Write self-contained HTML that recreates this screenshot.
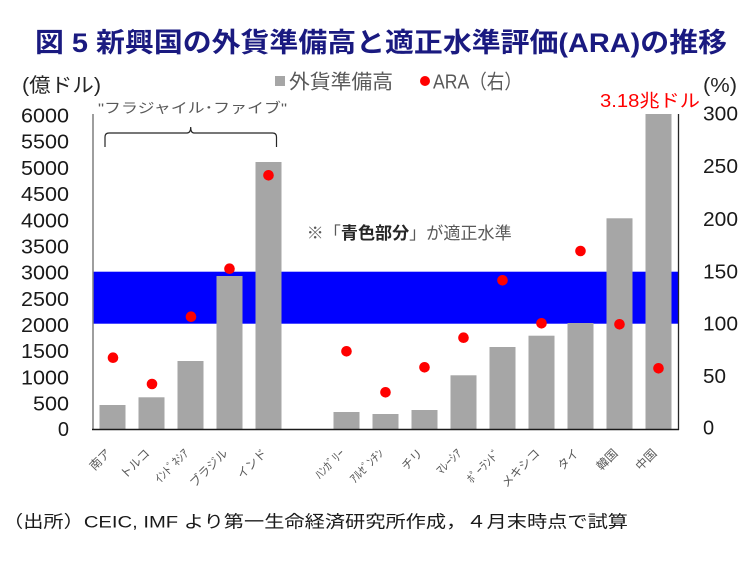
<!DOCTYPE html>
<html><head><meta charset="utf-8">
<style>
html,body{margin:0;padding:0;background:#fff;}
svg{display:block;}
text{font-family:"Liberation Sans","Noto Sans CJK JP",sans-serif;}
</style></head>
<body>
<svg width="753" height="567" viewBox="0 0 753 567" xmlns="http://www.w3.org/2000/svg">
<rect width="753" height="567" fill="#fff"/>
<!-- Title -->
<text x="35" y="52" font-size="27" font-weight="bold" fill="#1a1a80" textLength="692" lengthAdjust="spacingAndGlyphs">図 5  新興国の外貨準備高と適正水準評価(ARA)の推移</text>

<!-- axis unit labels -->
<text x="22" y="92" font-size="20" fill="#262626" textLength="79" lengthAdjust="spacingAndGlyphs">(億ドル)</text>
<text x="703" y="92" font-size="20" fill="#262626" textLength="34" lengthAdjust="spacingAndGlyphs">(%)</text>

<!-- legend -->
<rect x="275" y="76" width="10" height="10" fill="#a6a6a6"/>
<text x="289" y="88.5" font-size="20" fill="#595959" textLength="104" lengthAdjust="spacingAndGlyphs">外貨準備高</text>
<circle cx="425" cy="81" r="5" fill="#ff0000"/>
<text x="433" y="88.5" font-size="20" fill="#595959" textLength="89" lengthAdjust="spacingAndGlyphs">ARA（右）</text>

<!-- blue band -->
<rect x="93" y="271.7" width="585" height="52" fill="#0000ff"/>

<!-- bars -->
<g fill="#a6a6a6">
<rect x="99.5" y="405" width="26" height="24.5"/>
<rect x="138.5" y="397.3" width="26" height="32.2"/>
<rect x="177.5" y="361" width="26" height="68.5"/>
<rect x="216.5" y="276" width="26" height="153.5"/>
<rect x="255.5" y="162" width="26" height="267.5"/>
<rect x="333.5" y="412" width="26" height="17.5"/>
<rect x="372.5" y="414" width="26" height="15.5"/>
<rect x="411.5" y="410" width="26" height="19.5"/>
<rect x="450.5" y="375.3" width="26" height="54.2"/>
<rect x="489.5" y="347" width="26" height="82.5"/>
<rect x="528.5" y="335.7" width="26" height="93.8"/>
<rect x="567.5" y="323" width="26" height="106.5"/>
<rect x="606.5" y="218.3" width="26" height="211.2"/>
<rect x="645.5" y="114" width="26" height="315.5"/>
</g>

<!-- dots -->
<g fill="#ff0000">
<circle cx="113" cy="357.7" r="5.3"/>
<circle cx="152" cy="384" r="5.3"/>
<circle cx="191" cy="316.7" r="5.3"/>
<circle cx="229.5" cy="268.7" r="5.3"/>
<circle cx="268.5" cy="175.3" r="5.3"/>
<circle cx="346.5" cy="351.3" r="5.3"/>
<circle cx="385.5" cy="392.3" r="5.3"/>
<circle cx="424.5" cy="367.3" r="5.3"/>
<circle cx="463.5" cy="337.7" r="5.3"/>
<circle cx="502.5" cy="280.3" r="5.3"/>
<circle cx="541.5" cy="323.3" r="5.3"/>
<circle cx="580.5" cy="251" r="5.3"/>
<circle cx="619.5" cy="324.3" r="5.3"/>
<circle cx="658.5" cy="368.3" r="5.3"/>
</g>

<!-- axes -->
<line x1="93" y1="114" x2="93" y2="430" stroke="#7f7f7f" stroke-width="1.5"/>
<line x1="678.5" y1="114" x2="678.5" y2="430" stroke="#262626" stroke-width="1.3"/>
<line x1="92" y1="429.5" x2="679" y2="429.5" stroke="#1a1a1a" stroke-width="1.5"/>

<!-- left tick labels -->
<g font-size="20" fill="#1a1a1a" text-anchor="end">
<text x="69" y="122.5" textLength="48" lengthAdjust="spacingAndGlyphs">6000</text>
<text x="69" y="148.7" textLength="48" lengthAdjust="spacingAndGlyphs">5500</text>
<text x="69" y="174.9" textLength="48" lengthAdjust="spacingAndGlyphs">5000</text>
<text x="69" y="201.1" textLength="48" lengthAdjust="spacingAndGlyphs">4500</text>
<text x="69" y="227.3" textLength="48" lengthAdjust="spacingAndGlyphs">4000</text>
<text x="69" y="253.4" textLength="48" lengthAdjust="spacingAndGlyphs">3500</text>
<text x="69" y="279.6" textLength="48" lengthAdjust="spacingAndGlyphs">3000</text>
<text x="69" y="305.8" textLength="48" lengthAdjust="spacingAndGlyphs">2500</text>
<text x="69" y="332.0" textLength="48" lengthAdjust="spacingAndGlyphs">2000</text>
<text x="69" y="358.2" textLength="48" lengthAdjust="spacingAndGlyphs">1500</text>
<text x="69" y="384.3" textLength="48" lengthAdjust="spacingAndGlyphs">1000</text>
<text x="69" y="410.5" textLength="36" lengthAdjust="spacingAndGlyphs">500</text>
<text x="69" y="436.2">0</text>
</g>

<!-- right tick labels -->
<g font-size="20" fill="#1a1a1a">
<text x="703" y="120.5" textLength="35" lengthAdjust="spacingAndGlyphs">300</text>
<text x="703" y="173.2" textLength="35" lengthAdjust="spacingAndGlyphs">250</text>
<text x="703" y="226" textLength="35" lengthAdjust="spacingAndGlyphs">200</text>
<text x="703" y="278.5" textLength="35" lengthAdjust="spacingAndGlyphs">150</text>
<text x="703" y="330.5" textLength="35" lengthAdjust="spacingAndGlyphs">100</text>
<text x="703" y="383.2" textLength="23" lengthAdjust="spacingAndGlyphs">50</text>
<text x="703" y="434.5">0</text>
</g>

<!-- 3.18兆ドル -->
<text x="600" y="107" font-size="18" fill="#ff0000" textLength="100" lengthAdjust="spacingAndGlyphs">3.18兆ドル</text>

<!-- fragile five bracket -->
<text x="98" y="113" font-size="14" fill="#595959" textLength="189" lengthAdjust="spacingAndGlyphs">"フラジャイル･ファイブ"</text>
<path d="M105,147 L105,137 Q105,133 109,133 L187,133 Q190.7,133 190.7,127 Q190.7,133 194,133 L272.5,133 Q276.5,133 276.5,137 L276.5,147" fill="none" stroke="#262626" stroke-width="1.2"/>

<!-- annotation -->
<text x="306.7" y="239" font-size="17" fill="#595959" textLength="205" lengthAdjust="spacingAndGlyphs">※「<tspan font-weight="bold" fill="#262626">青色部分</tspan>」が適正水準</text>

<!-- x labels -->
<g font-size="12" fill="#595959" text-anchor="end">
<text x="111.5" y="454" transform="rotate(-45 111.5 454)">南ア</text>
<text x="150.5" y="454" transform="rotate(-45 150.5 454)">トルコ</text>
<text x="189.5" y="454" transform="rotate(-45 189.5 454)">ｲﾝﾄﾞﾈｼｱ</text>
<text x="228.5" y="454" transform="rotate(-45 228.5 454)">ブラジル</text>
<text x="267.5" y="454" transform="rotate(-45 267.5 454)">インド</text>
<text x="345.5" y="454" transform="rotate(-45 345.5 454)">ﾊﾝｶﾞﾘｰ</text>
<text x="384.5" y="454" transform="rotate(-45 384.5 454)">ｱﾙｾﾞﾝﾁﾝ</text>
<text x="423.5" y="454" transform="rotate(-45 423.5 454)">チリ</text>
<text x="462.5" y="454" transform="rotate(-45 462.5 454)">ﾏﾚｰｼｱ</text>
<text x="501.5" y="454" transform="rotate(-45 501.5 454)">ﾎﾟｰﾗﾝﾄﾞ</text>
<text x="540.5" y="454" transform="rotate(-45 540.5 454)">メキシコ</text>
<text x="579.5" y="454" transform="rotate(-45 579.5 454)">タイ</text>
<text x="618.5" y="454" transform="rotate(-45 618.5 454)">韓国</text>
<text x="657.5" y="454" transform="rotate(-45 657.5 454)">中国</text>
</g>

<!-- footer -->
<text x="3" y="527.5" font-size="17" fill="#1a1a1a" textLength="625" lengthAdjust="spacingAndGlyphs">（出所）CEIC, IMF より第一生命経済研究所作成，４月末時点で試算</text>
</svg>
</body></html>
